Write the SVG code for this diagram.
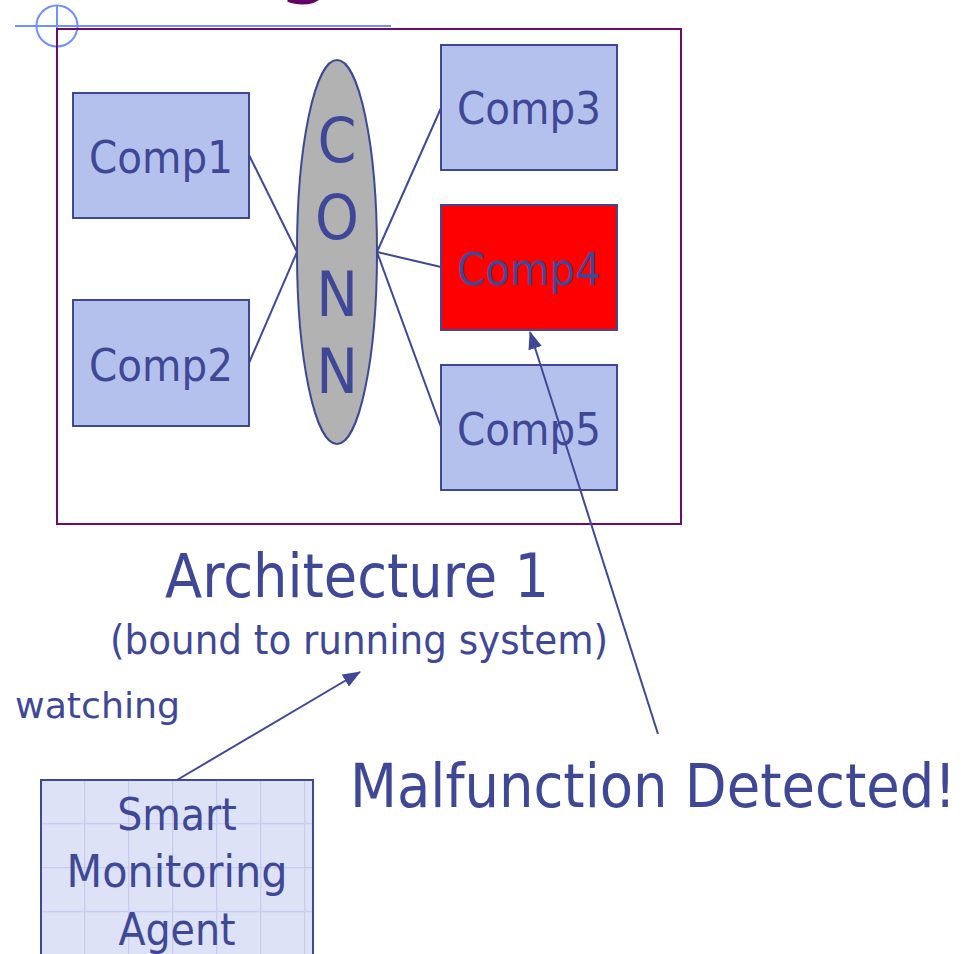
<svg xmlns="http://www.w3.org/2000/svg" width="966" height="954" viewBox="0 0 966 954">
<style>
.txt{font-family:"DejaVu Sans Condensed","DejaVu Sans","Liberation Sans",sans-serif;fill:#3f4897}
.comp{fill:#b5c1ed;stroke:#3f4897;stroke-width:2}
.cl{font-size:45px;text-anchor:middle}
.conn{stroke:#3f4897;stroke-width:2;fill:none}
</style>
<defs>
<marker id="ah" viewBox="0 0 18 14" refX="17" refY="7" markerWidth="18" markerHeight="14" markerUnits="userSpaceOnUse" orient="auto">
<path d="M0,0 L18,7 L0,14 Z" fill="#3f4897"/>
</marker>
<pattern id="grid" x="40" y="779" width="44" height="44" patternUnits="userSpaceOnUse">
<rect width="44" height="44" fill="#dde2f6"/>
<path d="M0,0.5 H44 M0.5,0 V44" stroke="#c6cdf0" stroke-width="1.5" fill="none"/>
</pattern>
</defs>
<rect width="966" height="954" fill="#ffffff"/>
<g id="title-fragment">
<text x="306" y="-13" text-anchor="middle" style="font-family:'DejaVu Sans Condensed','DejaVu Sans',sans-serif;font-weight:bold;font-size:84px;fill:#660066">g</text>
</g>
<g id="guides">
<line x1="15" y1="26" x2="391" y2="26" stroke="#7090ff" stroke-width="2"/>
<line x1="57" y1="5" x2="57" y2="29" stroke="#7090ff" stroke-width="2"/>
<circle cx="57" cy="26" r="20.5" fill="none" stroke="#7090ff" stroke-width="2"/>
</g>
<g id="architecture-frame">
<rect x="57" y="29" width="624" height="495" fill="none" stroke="#6b0d6b" stroke-width="2"/>
</g>
<g id="comp1"><rect class="comp" x="73" y="93" width="176" height="125"/><text class="txt cl" x="161" y="173">Comp1</text></g>
<g id="comp2"><rect class="comp" x="73" y="300" width="176" height="126"/><text class="txt cl" x="161" y="381">Comp2</text></g>
<g id="comp3"><rect class="comp" x="441" y="45" width="176" height="125"/><text class="txt cl" x="529" y="124">Comp3</text></g>
<g id="comp4"><rect x="441" y="205" width="176" height="125" fill="#ff0000" stroke="#3f4897" stroke-width="2"/><text class="txt cl" x="529" y="285">Comp4</text></g>
<g id="comp5"><rect class="comp" x="441" y="365" width="176" height="125"/><text class="txt cl" x="529" y="445">Comp5</text></g>
<g id="conn">
<ellipse cx="337" cy="252" rx="40" ry="192" fill="#b2b2b2" stroke="#3f4897" stroke-width="2"/>
<text class="txt" x="337" y="162" text-anchor="middle" font-size="62">C</text>
<text class="txt" x="337" y="239" text-anchor="middle" font-size="62">O</text>
<text class="txt" x="337" y="316" text-anchor="middle" font-size="62">N</text>
<text class="txt" x="337" y="393" text-anchor="middle" font-size="62">N</text>
</g>
<g id="labels">
<text class="txt" x="165" y="597" font-size="60" textLength="384" lengthAdjust="spacingAndGlyphs">Architecture 1</text>
<text class="txt" x="110" y="654" font-size="40" textLength="498" lengthAdjust="spacingAndGlyphs">(bound to running system)</text>
<text class="txt" x="15" y="718" font-size="36" textLength="165" lengthAdjust="spacingAndGlyphs">watching</text>
<text class="txt" x="350" y="807" font-size="61" textLength="606" lengthAdjust="spacingAndGlyphs">Malfunction Detected!</text>
</g>
<g id="agent">
<rect x="41" y="780" width="272" height="190" fill="url(#grid)" stroke="#3f4897" stroke-width="2"/>
<text class="txt" x="177" y="830" font-size="44" text-anchor="middle">Smart</text>
<text class="txt" x="177" y="887" font-size="44" text-anchor="middle" textLength="221" lengthAdjust="spacingAndGlyphs">Monitoring</text>
<text class="txt" x="177" y="945" font-size="44" text-anchor="middle">Agent</text>
</g>
<g id="connectors">
<line class="conn" x1="249" y1="155" x2="297" y2="252"/>
<line class="conn" x1="249" y1="363" x2="297" y2="252"/>
<line class="conn" x1="377" y1="252" x2="441" y2="108"/>
<line class="conn" x1="377" y1="252" x2="441" y2="267"/>
<line class="conn" x1="377" y1="252" x2="441" y2="427"/>
<line class="conn" x1="658" y1="734" x2="530" y2="332" marker-end="url(#ah)"/>
<line class="conn" x1="177" y1="780" x2="360" y2="672" marker-end="url(#ah)"/>
</g>
</svg>
